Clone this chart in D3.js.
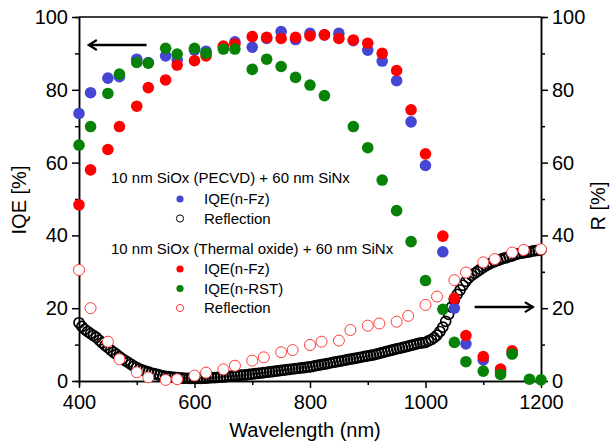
<!DOCTYPE html>
<html>
<head>
<meta charset="utf-8">
<script src="https://cdn.jsdelivr.net/npm/d3@7"></script>
<style>
  body { margin: 0; background: #fff; }
  svg { font-family: Arial, "Liberation Sans", sans-serif; }
</style>
</head>
<body>
<svg id="chart" width="610" height="443"></svg>
<script>
// Data
const iqeWavelengths = [400, 420, 450, 470, 500, 520, 550, 570, 600, 620, 650, 670, 700, 725, 750, 775, 800, 825, 850, 875, 900, 925, 950, 975, 1000, 1030, 1050, 1070, 1100, 1130, 1150];
const iqePecvdFz = [73.5, 79.2, 83.2, 83.6, 88.4, 87.5, 89.3, 88.2, 90.9, 90.6, 91.8, 93.2, 91.7, 94.1, 96.0, 93.8, 95.5, 95.1, 95.5, 93.5, 90.9, 87.9, 82.5, 71.2, 59.2, 35.5, 20.0, 10.2, 5.8, 2.6, 7.6];
const iqeThermalFz = [48.4, 58.0, 63.6, 69.9, 75.5, 80.6, 82.7, 86.8, 88.0, 89.3, 92.0, 92.6, 94.6, 94.4, 94.1, 94.4, 94.8, 95.1, 94.1, 93.7, 92.8, 90.0, 85.3, 74.5, 62.4, 39.8, 22.7, 12.5, 6.7, 3.3, 8.3];

const rstWavelengths = [400, 420, 450, 470, 500, 520, 550, 570, 600, 620, 650, 670, 700, 725, 750, 775, 800, 825, 875, 900, 925, 950, 975, 1000, 1030, 1050, 1070, 1100, 1130, 1150, 1180, 1200];
const iqeThermalRst = [64.8, 69.9, 79.0, 84.3, 87.5, 87.3, 91.4, 89.8, 91.4, 90.0, 91.2, 91.2, 85.6, 88.4, 86.4, 83.4, 81.3, 78.4, 69.9, 64.1, 55.2, 46.8, 38.3, 27.6, 19.7, 10.6, 5.3, 2.7, 1.8, 7.4, 0.5, 0.3];

const reflThermalWavelengths = [400, 420, 450, 470, 500, 520, 550, 570, 600, 620, 650, 670, 700, 720, 750, 770, 800, 820, 850, 870, 900, 920, 950, 970, 1000, 1020, 1050, 1070, 1100, 1120, 1150, 1170, 1200];
const reflThermal = [30.5, 20.0, 10.8, 6.0, 2.4, 1.0, 0.3, 0.5, 1.5, 2.3, 3.2, 4.2, 5.6, 6.5, 7.9, 8.5, 9.9, 10.8, 11.1, 14.0, 15.2, 15.8, 16.3, 17.9, 20.9, 23.2, 27.7, 29.8, 32.6, 33.5, 35.3, 36.0, 36.2];

// PECVD reflection, 400..1200 nm every 5 nm
const reflPecvdWavelengths = d3.range(400, 1201, 5);
const reflPecvd = [
  16.0, 15.0, 14.2, 13.6, 13.0, 12.5, 12.0, 11.2, 10.5, 9.8, 9.2, 8.5, 7.9, 7.3, 6.7, 6.1, 5.6, 5.1, 4.6, 4.1, 3.7,
  3.3, 3.0, 2.7, 2.5, 2.2, 2.0, 1.8, 1.6, 1.4, 1.3, 1.2, 1.1, 1.0, 0.9, 0.85, 0.8, 0.75, 0.7, 0.7, 0.7,
  0.7, 0.7, 0.75, 0.8, 0.85, 0.9, 0.95, 1.0, 1.05, 1.1, 1.2, 1.3, 1.35, 1.4, 1.5, 1.6, 1.65, 1.7, 1.8, 1.9,
  2.0, 2.1, 2.2, 2.3, 2.4, 2.5, 2.6, 2.7, 2.8, 2.9, 3.0, 3.1, 3.2, 3.3, 3.4, 3.5, 3.6, 3.7, 3.8, 3.9,
  4.0, 4.2, 4.35, 4.5, 4.65, 4.8, 4.95, 5.1, 5.25, 5.4, 5.55, 5.7, 5.85, 6.0, 6.15, 6.3, 6.45, 6.6, 6.75, 6.9,
  7.05, 7.2, 7.4, 7.6, 7.8, 8.0, 8.2, 8.4, 8.6, 8.8, 9.0, 9.2, 9.4, 9.6, 9.8, 10.0, 10.2, 10.4, 10.5, 10.6,
  11.0, 11.4, 11.9, 12.6, 13.6, 14.8, 16.4, 18.3, 20.3, 22.3, 23.8, 25.0, 26.3, 27.4, 28.3, 29.0, 29.6, 30.1, 30.7, 31.2,
  31.7, 32.1, 32.5, 32.8, 33.1, 33.4, 33.7, 33.9, 34.2, 34.4, 34.7, 34.9, 35.1, 35.2, 35.4, 35.5, 35.7, 35.8, 35.9, 36.0
];

const majorTicks = [0, 20, 40, 60, 80, 100];
const minorTicks = [10, 30, 50, 70, 90];
const xMajorTicks = [400, 600, 800, 1000, 1200];
const xMinorTicks = [500, 700, 900, 1100];

// arrows: [x1, x2, y] in data units
const leftArrow = [517, 417, 92.3];
const rightArrow = [1085, 1186, 20.3];

// Colours
const blue = "#4646d4";
const red = "#ff0000";
const green = "#078207";

// Chart setup
const width = 610;
const height = 443;
const plotLeft = 79, plotRight = 541, plotTop = 17, plotBottom = 381;

const svg = d3.select("#chart");

const x = d3.scaleLinear().domain([400, 1200]).range([plotLeft, plotRight]);
const y = d3.scaleLinear().domain([0, 100]).range([plotBottom, plotTop]);

// Frame top line
svg.append("line")
  .attr("x1", plotLeft).attr("x2", plotRight)
  .attr("y1", plotTop).attr("y2", plotTop)
  .attr("stroke", "#000").attr("stroke-width", 1.5);

function styleAxis(g) {
  g.select(".domain").attr("stroke", "#000").attr("stroke-width", 1.5);
  g.selectAll(".tick line").attr("stroke", "#000").attr("stroke-width", 1.5);
  g.selectAll("text").attr("font-size", 20).attr("fill", "#000")
    .attr("font-family", "Arial, 'Liberation Sans', sans-serif");
}

const fmt = d3.format("d");

// Left axis
svg.append("g").attr("transform", `translate(${plotLeft},0)`)
  .call(d3.axisLeft(y).tickValues(minorTicks).tickSize(4).tickFormat(""))
  .call(styleAxis);
svg.append("g").attr("transform", `translate(${plotLeft},0)`)
  .call(d3.axisLeft(y).tickValues(majorTicks).tickSize(7).tickSizeOuter(0).tickPadding(4).tickFormat(fmt))
  .call(styleAxis);

// Right axis
svg.append("g").attr("transform", `translate(${plotRight},0)`)
  .call(d3.axisRight(y).tickValues(minorTicks).tickSize(4).tickFormat(""))
  .call(styleAxis);
svg.append("g").attr("transform", `translate(${plotRight},0)`)
  .call(d3.axisRight(y).tickValues(majorTicks).tickSize(7).tickSizeOuter(0).tickPadding(4).tickFormat(fmt))
  .call(styleAxis);

// Bottom axis
svg.append("g").attr("transform", `translate(0,${plotBottom})`)
  .call(d3.axisBottom(x).tickValues(xMinorTicks).tickSize(4).tickFormat(""))
  .call(styleAxis);
svg.append("g").attr("transform", `translate(0,${plotBottom})`)
  .call(d3.axisBottom(x).tickValues(xMajorTicks).tickSize(7).tickSizeOuter(0).tickPadding(7).tickFormat(fmt))
  .call(styleAxis);

// Axis titles
svg.append("text")
  .attr("transform", `translate(26,200) rotate(-90)`)
  .attr("text-anchor", "middle").attr("font-size", 20)
  .text("IQE [%]");
svg.append("text")
  .attr("transform", `translate(605,206) rotate(-90)`)
  .attr("text-anchor", "middle").attr("font-size", 20)
  .text("R [%]");
svg.append("text")
  .attr("x", 305).attr("y", 437)
  .attr("text-anchor", "middle").attr("font-size", 20)
  .text("Wavelength (nm)");

// Points
const plot = svg.append("g");

function zip(xs, ys) {
  return xs.map((w, i) => ({ w: w, v: ys[i] }));
}

// PECVD reflection (dense open circles)
plot.append("g").selectAll("circle")
  .data(zip(reflPecvdWavelengths, reflPecvd))
  .enter().append("circle")
  .attr("cx", (d) => x(d.w)).attr("cy", (d) => y(d.v))
  .attr("r", 5)
  .attr("fill", "none").attr("stroke", "#000").attr("stroke-width", 1.7);

// Thermal reflection (red open circles)
plot.append("g").selectAll("circle")
  .data(zip(reflThermalWavelengths, reflThermal))
  .enter().append("circle")
  .attr("cx", (d) => x(d.w)).attr("cy", (d) => y(d.v))
  .attr("r", 5.5)
  .attr("fill", "#fff").attr("stroke", "#ff3b3b").attr("stroke-width", 1);

function dots(xs, ys, color) {
  plot.append("g").selectAll("circle")
    .data(zip(xs, ys))
    .enter().append("circle")
    .attr("cx", (d) => x(d.w)).attr("cy", (d) => y(d.v))
    .attr("r", 5.8)
    .attr("fill", color);
}
dots(iqeWavelengths, iqePecvdFz, blue);
dots(iqeWavelengths, iqeThermalFz, red);
dots(rstWavelengths, iqeThermalRst, green);

// Arrows
function arrow(a, dir) {
  const x1 = x(a[0]), x2 = x(a[1]), yy = y(a[2]);
  svg.append("line")
    .attr("x1", x1).attr("x2", x2).attr("y1", yy).attr("y2", yy)
    .attr("stroke", "#000").attr("stroke-width", 2.5);
  svg.append("path")
    .attr("d", `M${x2 - dir * 8},${yy - 5} L${x2},${yy} L${x2 - dir * 8},${yy + 5}`)
    .attr("fill", "none").attr("stroke", "#000").attr("stroke-width", 2.2);
}
arrow(leftArrow, -1);
arrow(rightArrow, 1);

// Legend
const legend = svg.append("g").attr("font-size", 15);
const legendRows = [
  { type: "head", text: "10 nm SiOx (PECVD) + 60 nm SiNx", y: 178 },
  { type: "fill", color: blue, text: "IQE(n-Fz)", y: 199 },
  { type: "open", color: "#000", text: "Reflection", y: 218.5 },
  { type: "head", text: "10 nm SiOx (Thermal oxide) + 60 nm SiNx", y: 249 },
  { type: "fill", color: red, text: "IQE(n-Fz)", y: 269 },
  { type: "fill", color: green, text: "IQE(n-RST)", y: 288.5 },
  { type: "open", color: "#ff3b3b", text: "Reflection", y: 308 }
];
legendRows.forEach((r) => {
  if (r.type === "head") {
    legend.append("text").attr("x", 111).attr("y", r.y).attr("dy", "0.35em").text(r.text);
  } else {
    legend.append("circle").attr("cx", 180).attr("cy", r.y).attr("r", 3.6)
      .attr("fill", r.type === "fill" ? r.color : "#fff")
      .attr("stroke", r.type === "fill" ? "none" : r.color).attr("stroke-width", 1);
    legend.append("text").attr("x", 204).attr("y", r.y).attr("dy", "0.35em").text(r.text);
  }
});
</script>
</body>
</html>
